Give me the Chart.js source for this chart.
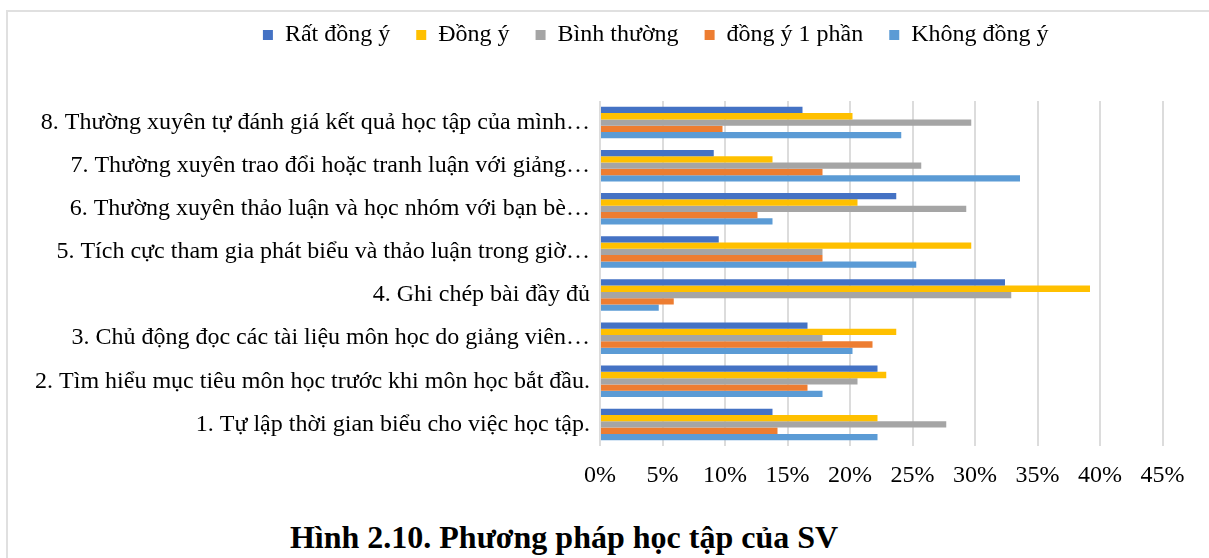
<!DOCTYPE html>
<html lang="vi">
<head>
<meta charset="utf-8">
<title>Phương pháp học tập của SV</title>
<script src="https://cdn.jsdelivr.net/npm/chart.js@4.4.1/dist/chart.umd.min.js"></script>
<style>
  html, body { margin: 0; padding: 0; background: #fff; width: 1209px; height: 558px; overflow: hidden; }
  .frame { position: absolute; left: 6px; top: 10px; width: 1300px; height: 600px; border: 2px solid #e0e0e0; box-sizing: border-box; }
  .chart-box { position: absolute; left: 0; top: 0; width: 1209px; height: 506px; }
  .caption { position: absolute; left: 0; top: 520px; width: 1128px; text-align: center;
             font: bold 32px "Liberation Serif", "Times New Roman", serif; color: #000; line-height: 1.1; }
</style>
</head>
<body>
<div class="frame"></div>
<div class="chart-box"><canvas id="chart" width="1209" height="506"></canvas></div>
<div class="caption">Hình 2.10. Phương pháp học tập của SV</div>
<script>
// Survey items (bottom to top on the chart)
const categories = [
  '1. Tự lập thời gian biểu cho việc học tập.',
  '2. Tìm hiểu mục tiêu môn học trước khi môn học bắt đầu.',
  '3. Chủ động đọc các tài liệu môn học do giảng viên…',
  '4. Ghi chép bài đầy đủ',
  '5. Tích cực tham gia phát biểu và thảo luận trong giờ…',
  '6. Thường xuyên thảo luận và học nhóm với bạn bè…',
  '7. Thường xuyên trao đổi hoặc tranh luận với giảng…',
  '8. Thường xuyên tự đánh giá kết quả học tập của mình…'
];

const seriesNames = ['Rất đồng ý', 'Đồng ý', 'Bình thường', 'đồng ý 1 phần', 'Không đồng ý'];

// Percentages per item, one array per answer
const ratDongY     = [13.8, 22.2, 16.6, 32.4,  9.5, 23.7,  9.1, 16.2];
const dongY        = [22.2, 22.9, 23.7, 39.2, 29.7, 20.6, 13.8, 20.2];
const binhThuong   = [27.7, 20.6, 17.8, 32.9, 17.8, 29.3, 25.7, 29.7];
const dongYMotPhan = [14.2, 16.6, 21.8,  5.9, 17.8, 12.6, 17.8,  9.8];
const khongDongY   = [22.2, 17.8, 20.2,  4.7, 25.3, 13.8, 33.6, 24.1];

// Value axis ticks (percent)
const xTicks = [0, 5, 10, 15, 20, 25, 30, 35, 40, 45];

const seriesValues = [ratDongY, dongY, binhThuong, dongYMotPhan, khongDongY];
const seriesColors = ['#4472C4', '#FFC000', '#A5A5A5', '#ED7D31', '#5B9BD5'];

Chart.defaults.font.family = '"Liberation Serif", "Times New Roman", serif';
Chart.defaults.color = '#000';

// Legend row: extra room below it, and centred over the wider frame
const legendPlacement = {
  id: 'legendPlacement',
  beforeInit(chart) {
    const legend = chart.legend;
    const fit = legend.fit;
    legend.fit = function () {
      fit.call(this);
      this.height += 44;
    };
  },
  afterLayout(chart) {
    chart.legend.left = 149;
  }
};

new Chart(document.getElementById('chart'), {
  type: 'bar',
  data: {
    labels: categories,
    datasets: seriesNames.map((name, i) => ({
      label: name,
      data: seriesValues[i],
      backgroundColor: seriesColors[i],
      borderWidth: 0,
      categoryPercentage: 0.73,
      barPercentage: 1.0
    }))
  },
  options: {
    indexAxis: 'y',
    responsive: false,
    animation: false,
    layout: { padding: { left: 10, right: 46.5, top: -3, bottom: 0 } },
    plugins: {
      legend: {
        position: 'top',
        labels: { boxWidth: 10, boxHeight: 10, padding: 26, font: { size: 24 }, color: '#000' }
      },
      tooltip: { enabled: false },
      title: { display: false }
    },
    scales: {
      x: {
        min: 0,
        max: 45,
        afterBuildTicks(axis) { axis.ticks = xTicks.map(v => ({ value: v })); },
        afterFit(axis) { axis.height = 60; },
        grid: { color: '#dcdcdc', lineWidth: 2, drawTicks: false },
        border: { display: false },
        ticks: { padding: 15, font: { size: 24 }, color: '#000', callback: v => v + '%' }
      },
      y: {
        reverse: true,
        afterFit(axis) { axis.width = 590; },
        grid: { display: false, drawTicks: false },
        border: { display: false },
        ticks: { padding: 10, font: { size: 24 }, color: '#000', autoSkip: false }
      }
    }
  },
  plugins: [legendPlacement]
});
</script>
</body>
</html>
